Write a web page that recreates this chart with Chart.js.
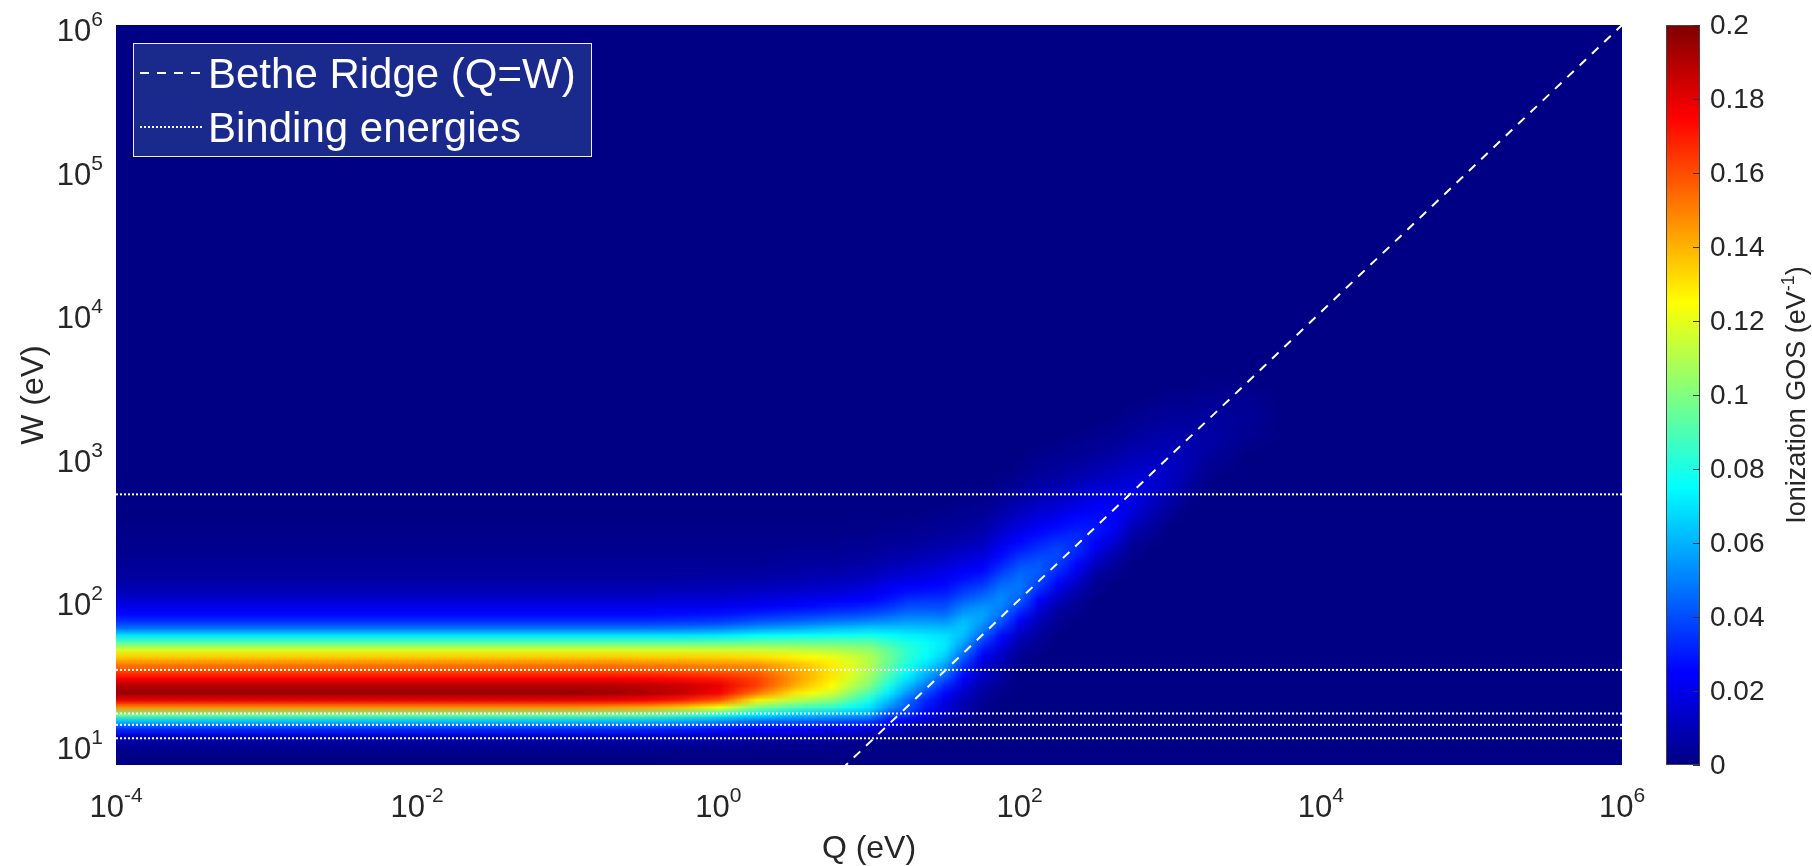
<!DOCTYPE html>
<html>
<head>
<meta charset="utf-8">
<script src="https://cdn.jsdelivr.net/npm/chart.js@4.4.0/dist/chart.umd.min.js"></script>
<style>
  html, body { margin: 0; padding: 0; background: #fff; }
  canvas { display: block; }
</style>
</head>
<body>
<canvas id="gosChart" width="1812" height="866"></canvas>
<script>
// axis limits
const qMin = 1e-4, qMax = 1e6;
const wMin = 7.03, wMax = 1e6;
const cMin = 0, cMax = 0.2;

const qTicks = [1e-4, 1e-2, 1, 1e2, 1e4, 1e6];
const wTicks = [1e1, 1e2, 1e3, 1e4, 1e5, 1e6];
const cbarTicks = [0, 0.02, 0.04, 0.06, 0.08, 0.1, 0.12, 0.14, 0.16, 0.18, 0.2];

const xTitle = 'Q (eV)';
const yTitle = 'W (eV)';

// Bethe ridge Q = W and the binding energies (eV)
const ridgeQ = [1, 1e6];
const ridgeW = [1, 1e6];
const bindingEnergies = [10.79, 13.39, 16.05, 32.30, 539.0];

// GOS map: columns at log10(Q), rows at log10(W).
// each column lists values from row gosFirstRow[c] upward, missing = 0
const gosLogQ = [-1, -0.75, -0.5, -0.25, 0, 0.25, 0.5, 0.625, 0.75, 0.875, 1, 1.125, 1.25, 1.375, 1.5, 1.625,
  1.75, 1.875, 2, 2.125, 2.25, 2.375, 2.5, 2.625, 2.75, 2.875, 3, 3.125, 3.25, 3.375, 3.5, 3.75];
const gosLogW = [0.85, 0.9, 0.95, 1, 1.05, 1.1, 1.15, 1.2, 1.25, 1.3, 1.35, 1.4, 1.45, 1.5, 1.55, 1.6, 1.65, 1.7,
  1.75, 1.8, 1.85, 1.9, 1.95, 2, 2.05, 2.1, 2.15, 2.2, 2.25, 2.3, 2.35, 2.4, 2.45, 2.5, 2.55, 2.6, 2.65, 2.7,
  2.75, 2.8, 2.85, 2.9, 2.95, 3, 3.05, 3.1, 3.15, 3.2, 3.25, 3.3, 3.35, 3.4, 3.45, 3.5];
const gosFirstRow = [0, 0, 0, 0, 0, 0, 0, 0, 0, 0, 0, 0, 0, 0, 0, 0,
  0, 10, 14, 16, 19, 21, 24, 26, 29, 31, 34, 36, 39, 41, 44, 0];
const gosColumns = [
  [0, 0, .002, .005, .014, .034, .062, .098, .148, .18, .195, .19, .176, .162, .15, .135, .118, .092, .07, .047, .034, .026, .02, .015, .011, .008, .006, .005, .004, .003, .002, .002, .001, .001],
  [0, 0, .002, .005, .014, .034, .061, .097, .146, .179, .194, .19, .176, .162, .15, .135, .118, .092, .07, .047, .034, .026, .02, .015, .011, .008, .006, .005, .004, .003, .002, .002, .001, .001],
  [0, 0, .002, .005, .014, .033, .06, .095, .143, .176, .191, .188, .175, .161, .149, .134, .117, .092, .07, .047, .034, .026, .02, .015, .011, .008, .006, .005, .004, .003, .002, .002, .001, .001],
  [0, 0, .001, .005, .013, .031, .057, .09, .136, .17, .186, .185, .173, .16, .148, .134, .117, .092, .07, .048, .035, .027, .021, .016, .012, .009, .006, .005, .004, .003, .002, .002, .001, .001],
  [0, 0, .001, .004, .012, .028, .052, .082, .123, .158, .176, .179, .17, .158, .146, .133, .116, .093, .071, .05, .036, .028, .021, .016, .012, .009, .007, .005, .004, .003, .002, .002, .001, .001],
  [0, 0, .001, .003, .011, .024, .045, .072, .1, .128, .152, .163, .162, .155, .145, .131, .115, .095, .075, .055, .041, .031, .023, .018, .014, .01, .007, .005, .004, .003, .002, .002, .001, .001],
  [0, 0, .001, .003, .01, .023, .043, .066, .09, .112, .13, .141, .145, .143, .137, .127, .113, .095, .077, .058, .044, .034, .026, .02, .015, .011, .008, .006, .005, .004, .003, .002, .001, .001],
  [0, 0, .001, .003, .01, .022, .042, .064, .087, .107, .123, .133, .137, .137, .133, .124, .112, .095, .077, .06, .046, .035, .027, .021, .016, .012, .009, .007, .005, .004, .003, .002, .001, .001],
  [0, 0, .001, .003, .009, .021, .04, .062, .084, .102, .116, .125, .129, .13, .128, .121, .11, .095, .078, .062, .048, .037, .029, .022, .017, .013, .01, .007, .005, .004, .003, .002, .001, .001],
  [0, 0, .001, .002, .008, .02, .038, .06, .078, .091, .103, .112, .117, .119, .119, .116, .107, .094, .078, .063, .049, .038, .03, .024, .018, .014, .011, .008, .006, .005, .004, .003, .002, .001, .001],
  [0, 0, 0, .001, .006, .018, .036, .058, .07, .079, .09, .1, .105, .108, .11, .11, .104, .093, .079, .065, .051, .04, .032, .025, .02, .016, .012, .009, .007, .005, .004, .003, .002, .001, .001],
  [0, 0, 0, .001, .004, .013, .028, .04, .054, .063, .072, .08, .087, .092, .095, .097, .094, .086, .076, .064, .053, .043, .035, .029, .024, .021, .016, .012, .009, .007, .005, .004, .003, .002, .001],
  [0, 0, 0, 0, .003, .009, .02, .035, .042, .046, .055, .063, .07, .076, .081, .084, .084, .08, .073, .064, .055, .047, .04, .034, .028, .023, .018, .014, .011, .008, .006, .004, .003, .002, .001],
  [0, 0, 0, 0, .001, .005, .012, .024, .029, .032, .04, .048, .056, .063, .07, .075, .077, .076, .071, .063, .055, .047, .04, .035, .029, .025, .02, .016, .013, .01, .008, .006, .004, .003, .002, .001],
  [0, 0, 0, 0, 0, .002, .006, .014, .017, .02, .026, .033, .041, .05, .058, .065, .07, .071, .069, .062, .054, .046, .04, .035, .03, .026, .022, .019, .015, .012, .009, .007, .005, .004, .003, .002, .001],
  [0, 0, 0, 0, 0, .001, .003, .006, .008, .01, .014, .018, .023, .029, .036, .043, .05, .057, .062, .064, .062, .056, .05, .043, .037, .032, .027, .023, .019, .015, .012, .009, .007, .005, .004, .003, .002, .001],
  [0, 0, 0, 0, 0, 0, .001, .002, .003, .004, .006, .008, .011, .014, .017, .022, .029, .036, .044, .051, .056, .057, .054, .048, .042, .036, .031, .026, .022, .018, .014, .011, .009, .007, .005, .004, .003, .002, .001],
  [.002, .003, .005, .007, .009, .012, .016, .021, .027, .034, .041, .047, .051, .052, .05, .046, .041, .036, .031, .027, .023, .019, .016, .013, .01, .008, .006, .004, .003, .002, .001],
  [.002, .003, .005, .008, .012, .017, .023, .03, .037, .043, .047, .048, .047, .044, .04, .035, .03, .026, .022, .018, .015, .012, .009, .007, .005, .004, .003, .002, .001],
  [.002, .003, .005, .007, .01, .014, .019, .025, .031, .037, .041, .043, .042, .039, .035, .031, .027, .023, .019, .016, .013, .01, .008, .006, .005, .004, .003, .002, .001],
  [.002, .003, .005, .008, .012, .017, .022, .028, .033, .037, .039, .038, .035, .031, .027, .023, .019, .016, .013, .01, .008, .006, .005, .004, .003, .002, .001],
  [.002, .003, .005, .008, .012, .016, .021, .026, .03, .033, .034, .033, .03, .027, .023, .019, .016, .013, .011, .009, .007, .005, .004, .003, .002, .001],
  [.002, .003, .005, .008, .012, .016, .021, .025, .028, .029, .028, .026, .023, .02, .017, .014, .011, .009, .007, .005, .004, .003, .002, .001],
  [.002, .003, .005, .008, .011, .015, .019, .022, .024, .024, .023, .021, .018, .015, .013, .011, .009, .007, .005, .004, .003, .002, .001],
  [.002, .003, .005, .007, .01, .013, .016, .018, .019, .019, .018, .016, .014, .012, .01, .008, .006, .005, .004, .003, .002, .001],
  [.002, .003, .005, .007, .009, .011, .013, .015, .015, .015, .014, .013, .011, .009, .008, .006, .005, .004, .003, .002, .001],
  [.002, .003, .005, .007, .009, .011, .012, .012, .012, .011, .01, .009, .007, .006, .005, .004, .003, .002, .001],
  [.001, .002, .004, .005, .007, .008, .009, .009, .009, .008, .007, .006, .005, .004, .003, .002, .001],
  [.001, .002, .003, .004, .005, .006, .007, .007, .006, .006, .005, .004, .003, .002, .001],
  [.001, .002, .003, .004, .005, .005, .005, .005, .004, .004, .003, .002, .001],
  [.001, .002, .003, .003, .004, .004, .003, .003, .002, .001],
  []
];

const FONT = '"Liberation Sans", Arial, Helvetica, sans-serif';
const TEXT = '#262626';

// MATLAB-like jet colormap
function jet(t) {
  t = Math.min(1, Math.max(0, t));
  const f = v => Math.min(1, Math.max(0, v));
  const r = f(Math.min(4 * t - 1.5, -4 * t + 4.5));
  const g = f(Math.min(4 * t - 0.5, -4 * t + 3.5));
  const b = f(Math.min(4 * t + 0.516, -4 * t + 2.5));
  return [Math.round(r * 255), Math.round(g * 255), Math.round(b * 255)];
}
const rgb = c => `rgb(${c[0]},${c[1]},${c[2]})`;

function gosValue(c, r) {
  const k = r - gosFirstRow[c];
  const col = gosColumns[c];
  return k >= 0 && k < col.length ? col[k] : 0;
}

// one pixel per cell, rows top = highest W
function buildImage(cols) {
  const nr = gosLogW.length;
  const cv = document.createElement('canvas');
  cv.width = cols.length; cv.height = nr;
  const g = cv.getContext('2d');
  const im = g.createImageData(cols.length, nr);
  cols.forEach((c, i) => {
    for (let r = 0; r < nr; r++) {
      const col = jet(gosValue(c, r) / cMax);
      const p = ((nr - 1 - r) * cols.length + i) * 4;
      im.data[p] = col[0]; im.data[p + 1] = col[1]; im.data[p + 2] = col[2]; im.data[p + 3] = 255;
    }
  });
  g.putImageData(im, 0, 0);
  return cv;
}
const flatImage = buildImage([0]);
const pairImages = gosLogQ.slice(0, -1).map((_, i) => buildImage([i, i + 1]));

const heatmapPlugin = {
  id: 'gosHeatmap',
  beforeDatasetsDraw(chart) {
    const { ctx, chartArea: a, scales: { x, y } } = chart;
    const nr = gosLogW.length, dw = gosLogW[1] - gosLogW[0];
    const yT = y.getPixelForValue(10 ** (gosLogW[nr - 1] + dw / 2));
    const yB = y.getPixelForValue(10 ** (gosLogW[0] - dw / 2));
    const cx = gosLogQ.map(q => x.getPixelForValue(10 ** q));
    ctx.save();
    ctx.beginPath();
    ctx.rect(a.left, a.top, a.right - a.left, a.bottom - a.top);
    ctx.clip();
    ctx.fillStyle = rgb(jet(0));
    ctx.fillRect(a.left, a.top, a.right - a.left, a.bottom - a.top);
    ctx.imageSmoothingEnabled = true;
    // flat optical region left of the first column
    ctx.drawImage(flatImage, a.left, yT, Math.round(cx[0]) - a.left, yB - yT);
    // linear blend between neighbouring columns
    pairImages.forEach((img, i) => {
      const l = Math.round(cx[i]), r = Math.round(cx[i + 1]);
      const w = cx[i + 1] - cx[i];
      ctx.save();
      ctx.beginPath();
      ctx.rect(l, a.top, r - l, a.bottom - a.top);
      ctx.clip();
      ctx.drawImage(img, cx[i] - w / 2, yT, 2 * w, yB - yT);
      ctx.restore();
    });
    ctx.restore();
  }
};

function drawPower(ctx, exp, x, yBase, align) {
  ctx.font = `31px ${FONT}`;
  const wb = ctx.measureText('10').width;
  ctx.font = `21px ${FONT}`;
  const we = ctx.measureText(exp).width;
  const x0 = align === 'center' ? x - (wb + we) / 2 : x - (wb + we);
  ctx.textAlign = 'left';
  ctx.textBaseline = 'alphabetic';
  ctx.font = `31px ${FONT}`;
  ctx.fillText('10', x0, yBase);
  ctx.font = `21px ${FONT}`;
  ctx.fillText(exp, x0 + wb, yBase - 15);
}

const decorPlugin = {
  id: 'gosDecor',
  afterDraw(chart) {
    const { ctx, chartArea: a, scales: { x, y, cbar } } = chart;
    ctx.save();
    ctx.fillStyle = TEXT;

    // tick labels
    qTicks.forEach(v => drawPower(ctx, String(Math.round(Math.log10(v))), x.getPixelForValue(v), 817, 'center'));
    wTicks.forEach(v => drawPower(ctx, String(Math.round(Math.log10(v))), 103, y.getPixelForValue(v) + 16, 'right'));

    // axis titles
    ctx.font = `32px ${FONT}`;
    ctx.textAlign = 'center';
    ctx.textBaseline = 'alphabetic';
    ctx.fillText(xTitle, (a.left + a.right) / 2, 858);
    ctx.save();
    ctx.translate(43, (a.top + a.bottom) / 2);
    ctx.rotate(-Math.PI / 2);
    ctx.fillText(yTitle, 0, 0);
    ctx.restore();

    // colorbar
    const cbL = 1666, cbR = 1700;
    const top = cbar.getPixelForValue(cMax), bot = cbar.getPixelForValue(cMin);
    for (let py = Math.floor(top); py < Math.ceil(bot); py++) {
      ctx.fillStyle = rgb(jet(cbar.getValueForPixel(py + 0.5) / cMax));
      ctx.fillRect(cbL, py, cbR - cbL, 1);
    }
    ctx.strokeStyle = '#444';
    ctx.lineWidth = 1;
    ctx.strokeRect(cbL + 0.5, top + 0.5, cbR - cbL - 1, bot - top - 1);
    ctx.fillStyle = TEXT;
    ctx.font = `28px ${FONT}`;
    ctx.textAlign = 'left';
    ctx.textBaseline = 'middle';
    cbarTicks.forEach(v => {
      const py = Math.round(cbar.getPixelForValue(v)) + 0.5;
      ctx.beginPath();
      ctx.moveTo(cbR - 7, py);
      ctx.lineTo(cbR, py);
      ctx.strokeStyle = '#333';
      ctx.stroke();
      ctx.fillText(String(parseFloat(v.toFixed(2))), 1710, py + 1);
    });

    // colorbar title with superscript
    ctx.save();
    ctx.translate(1805, (top + bot) / 2);
    ctx.rotate(-Math.PI / 2);
    ctx.textAlign = 'left';
    ctx.textBaseline = 'alphabetic';
    const t1 = 'Ionization GOS (eV', t2 = '-1', t3 = ')';
    ctx.font = `27px ${FONT}`;
    const w1 = ctx.measureText(t1).width, w3 = ctx.measureText(t3).width;
    ctx.font = `18px ${FONT}`;
    const w2 = ctx.measureText(t2).width;
    const tx = -(w1 + w2 + w3) / 2;
    ctx.font = `27px ${FONT}`;
    ctx.fillText(t1, tx, 0);
    ctx.font = `18px ${FONT}`;
    ctx.fillText(t2, tx + w1, -11);
    ctx.font = `27px ${FONT}`;
    ctx.fillText(t3, tx + w1 + w2, 0);
    ctx.restore();

    // legend box
    const ds = chart.data.datasets;
    ctx.fillStyle = 'rgb(26,42,140)';
    ctx.fillRect(133, 43, 459, 114);
    ctx.strokeStyle = '#f0f0f0';
    ctx.lineWidth = 1;
    ctx.strokeRect(133.5, 43.5, 458, 113);
    ctx.strokeStyle = '#fff';
    ctx.lineWidth = 2;
    ctx.setLineDash(ds[0].borderDash);
    ctx.beginPath(); ctx.moveTo(140, 73); ctx.lineTo(200, 73); ctx.stroke();
    ctx.setLineDash(ds[1].borderDash);
    ctx.beginPath(); ctx.moveTo(140, 127); ctx.lineTo(204, 127); ctx.stroke();
    ctx.setLineDash([]);
    ctx.fillStyle = '#fff';
    ctx.font = `42px ${FONT}`;
    ctx.textAlign = 'left';
    ctx.textBaseline = 'alphabetic';
    ctx.fillText(ds[0].label, 208, 88);
    ctx.fillText(ds[1].label, 208, 142);
    ctx.restore();
  }
};

const datasets = [{
  label: 'Bethe Ridge (Q=W)',
  data: ridgeQ.map((q, i) => ({ x: q, y: ridgeW[i] })),
  borderColor: '#ffffff',
  borderWidth: 2,
  borderDash: [9, 8],
  pointRadius: 0,
  showLine: true,
  clip: 0
}];
bindingEnergies.forEach((w, i) => {
  datasets.push({
    label: i === 0 ? 'Binding energies' : '',
    data: [{ x: qMin, y: w }, { x: qMax, y: w }],
    borderColor: '#ffffff',
    borderWidth: 2,
    borderDash: [2, 2],
    pointRadius: 0,
    showLine: true,
    clip: 0
  });
});

new Chart(document.getElementById('gosChart'), {
  type: 'scatter',
  data: { datasets },
  options: {
    responsive: false,
    animation: false,
    events: [],
    layout: { padding: { left: 116, right: 190, top: 25, bottom: 101 } },
    scales: {
      x: { type: 'logarithmic', min: qMin, max: qMax, display: false },
      y: { type: 'logarithmic', min: wMin, max: wMax, display: false },
      cbar: { type: 'linear', axis: 'y', min: cMin, max: cMax, display: false }
    },
    plugins: { legend: { display: false }, tooltip: { enabled: false } }
  },
  plugins: [heatmapPlugin, decorPlugin]
});
</script>
</body>
</html>
